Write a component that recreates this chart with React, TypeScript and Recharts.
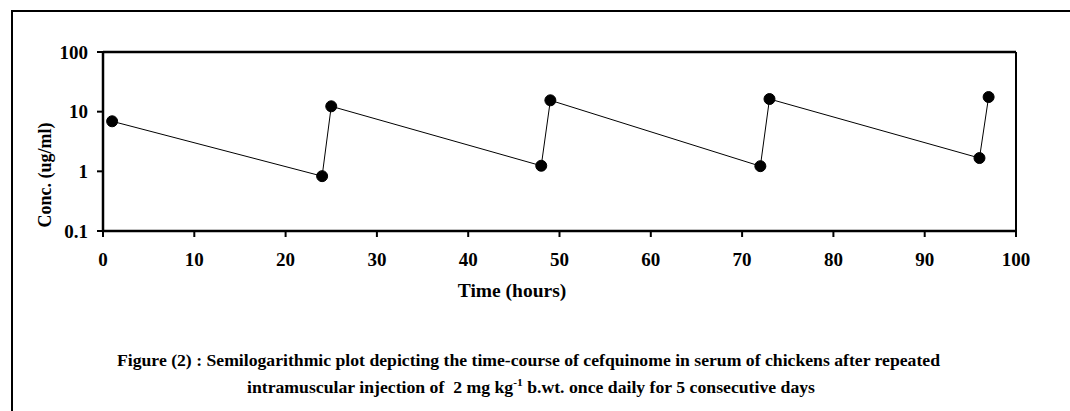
import React from "react";
import { LineChart, Line, XAxis, YAxis, ReferenceLine } from "recharts";

// sampling times (h) and serum concentrations (ug/ml)
const times = [1, 24, 25, 48, 49, 72, 73, 96, 97];
const conc = [6.9, 0.83, 12.3, 1.24, 15.5, 1.22, 16.3, 1.67, 17.6];

const xTicks = [0, 10, 20, 30, 40, 50, 60, 70, 80, 90, 100];
const yTicks = [0.1, 1, 10, 100];

const data = times.map((t, i) => ({ t, c: conc[i] }));

const FONT = '"Liberation Serif", "Times New Roman", serif';
const tickStyle = { fontSize: 19, fontWeight: 700, fill: "#000", fontFamily: FONT };

export default function App() {
  return (
    <div style={{ position: "absolute", left: 0, top: 0, width: 1070, height: 411, background: "#fff", overflow: "hidden" }}>
      <div
        style={{
          position: "absolute",
          left: 11,
          top: 10,
          width: 1100,
          height: 420,
          borderTop: "2px solid #000",
          borderLeft: "2px solid #000",
        }}
      />
      <div style={{ position: "absolute", left: 0, top: 0 }}>
        <LineChart width={1070} height={411} data={data} margin={{ top: 52, right: 54, bottom: 150, left: 0 }}>
          <XAxis
            dataKey="t"
            type="number"
            domain={[0, 100]}
            ticks={xTicks}
            height={30}
            stroke="#000"
            strokeWidth={2.5}
            tickSize={6}
            tickMargin={16}
            tick={tickStyle}
            tickLine={{ stroke: "#000", strokeWidth: 2 }}
          />
          <YAxis
            type="number"
            scale="log"
            domain={[0.1, 100]}
            ticks={yTicks}
            allowDataOverflow
            width={103}
            stroke="#000"
            strokeWidth={2.5}
            tickSize={6}
            tickMargin={9}
            tick={tickStyle}
            tickLine={{ stroke: "#000", strokeWidth: 2 }}
            tickFormatter={(v: number) => String(v)}
          />
          <ReferenceLine y={100} stroke="#000" strokeWidth={2.5} />
          <ReferenceLine x={100} stroke="#000" strokeWidth={2} />
          <Line
            dataKey="c"
            stroke="#000"
            strokeWidth={1}
            dot={{ r: 5.5, fill: "#000", stroke: "#000", strokeWidth: 1 }}
            isAnimationActive={false}
          />
        </LineChart>
      </div>
      <svg width={1070} height={411} style={{ position: "absolute", left: 0, top: 0, pointerEvents: "none" }}>
        <g fontFamily={FONT} fontWeight={700} fill="#000">
          <text x={51} y={175} fontSize={18} textAnchor="middle" transform="rotate(-90, 51, 175)">
            Conc. (ug/ml)
          </text>
          <text x={512} y={297} fontSize={19.5} textAnchor="middle">
            Time (hours)
          </text>
          <text x={117} y={366} fontSize={17} textLength={823} lengthAdjust="spacingAndGlyphs">
            Figure (2) : Semilogarithmic plot depicting the time-course of cefquinome in serum of chickens after repeated
          </text>
          <text x={247} y={393} fontSize={17} textLength={568} lengthAdjust="spacingAndGlyphs" style={{ whiteSpace: "pre" }}>
            {"intramuscular injection of  2 mg kg"}
            <tspan fontSize={11} dy={-7}>-1</tspan>
            <tspan dy={7}>{" b.wt. once daily for 5 consecutive days"}</tspan>
          </text>
        </g>
      </svg>
    </div>
  );
}
